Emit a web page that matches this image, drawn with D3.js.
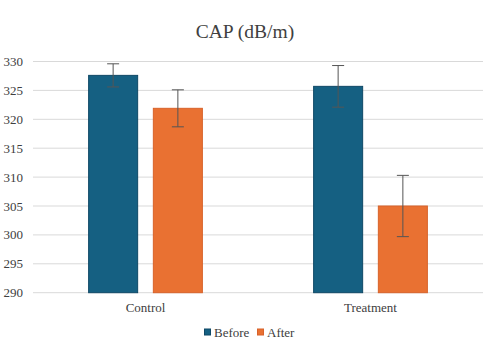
<!DOCTYPE html>
<html lang="en">
<head>
  <meta charset="UTF-8">
  <title>CAP (dB/m)</title>
  <script src="https://d3js.org/d3.v7.min.js"></script>
  <style>
    body { margin: 0; background: #fff; }
    svg text { font-family: "Liberation Serif", "DejaVu Serif", serif; }
  </style>
</head>
<body>
  <script>
    // data
    const groups = ["Control", "Treatment"];
    const series = ["Before", "After"];
    const colors = ["#156082", "#e97132"];
    const borders = ["#0f4866", "#d8622a"];
    const beforeVals = [327.6, 325.7];
    const afterVals = [321.9, 305.0];
    const beforeErr = [2.0, 3.6];
    const afterErr = [3.2, 5.3];
    const yTicks = [290, 295, 300, 305, 310, 315, 320, 325, 330];

    const width = 490, height = 359;
    const margin = { top: 61.5, right: 7, bottom: 66.3, left: 33 };
    const serif = "Liberation Serif, serif";

    const svg = d3.select("body").append("svg")
        .attr("width", width)
        .attr("height", height);

    const x0 = d3.scaleBand()
        .domain(groups)
        .range([margin.left, width - margin.right])
        .paddingInner(0.49)
        .paddingOuter(0.245);

    const x1 = d3.scaleBand()
        .domain(series)
        .range([0, x0.bandwidth()])
        .paddingInner(0.227);

    const y = d3.scaleLinear()
        .domain([290, 330])
        .range([height - margin.bottom, margin.top]);

    // gridlines
    svg.append("g")
      .selectAll("line")
      .data(yTicks)
      .enter().append("line")
        .attr("x1", margin.left)
        .attr("x2", width - margin.right)
        .attr("y1", d => y(d))
        .attr("y2", d => y(d))
        .attr("stroke", "#d9d9d9")
        .attr("stroke-width", 1);

    // y tick labels
    svg.append("g")
      .selectAll("text")
      .data(yTicks)
      .enter().append("text")
        .attr("x", 23)
        .attr("y", d => y(d))
        .attr("dy", "0.35em")
        .attr("text-anchor", "end")
        .attr("font-family", serif)
        .attr("font-size", 13)
        .attr("fill", "#404040")
        .text(d => d);

    // bars
    const rows = groups.map((g, i) => ({
      group: g,
      items: [
        { key: "Before", value: beforeVals[i], err: beforeErr[i], idx: 0 },
        { key: "After", value: afterVals[i], err: afterErr[i], idx: 1 }
      ]
    }));

    const gGroups = svg.append("g")
      .selectAll("g")
      .data(rows)
      .enter().append("g")
        .attr("transform", d => `translate(${x0(d.group)},0)`);

    gGroups.selectAll("rect")
      .data(d => d.items)
      .enter().append("rect")
        .attr("x", d => x1(d.key) + 0.5)
        .attr("y", d => y(d.value))
        .attr("width", x1.bandwidth() - 1)
        .attr("height", d => y(290) - y(d.value))
        .attr("fill", d => colors[d.idx])
        .attr("stroke", d => borders[d.idx])
        .attr("stroke-width", 1);

    // error bars
    const eb = gGroups.selectAll("g.err")
      .data(d => d.items)
      .enter().append("g")
        .attr("class", "err")
        .attr("stroke", "#555")
        .attr("stroke-width", 1);

    const cx = d => x1(d.key) + x1.bandwidth() / 2;
    eb.append("line")
        .attr("x1", cx).attr("x2", cx)
        .attr("y1", d => y(d.value + d.err))
        .attr("y2", d => y(d.value - d.err));
    eb.append("line")
        .attr("x1", d => cx(d) - 6).attr("x2", d => cx(d) + 6)
        .attr("y1", d => y(d.value + d.err))
        .attr("y2", d => y(d.value + d.err));
    eb.append("line")
        .attr("x1", d => cx(d) - 6).attr("x2", d => cx(d) + 6)
        .attr("y1", d => y(d.value - d.err))
        .attr("y2", d => y(d.value - d.err));

    // category labels
    svg.append("g")
      .selectAll("text")
      .data(groups)
      .enter().append("text")
        .attr("x", d => x0(d) + x0.bandwidth() / 2)
        .attr("y", 312)
        .attr("text-anchor", "middle")
        .attr("font-family", serif)
        .attr("font-size", 13)
        .attr("fill", "#404040")
        .text(d => d);

    // title
    svg.append("text")
        .attr("x", 245)
        .attr("y", 38)
        .attr("text-anchor", "middle")
        .attr("font-family", serif)
        .attr("font-size", 19.5)
        .attr("fill", "#404040")
        .text("CAP (dB/m)");

    // legend
    const legendX = [204, 257];
    const legend = svg.append("g")
      .selectAll("g")
      .data(series)
      .enter().append("g")
        .attr("transform", (d, i) => `translate(${legendX[i]},332)`);
    legend.append("rect")
        .attr("x", 0.5).attr("y", -3)
        .attr("width", 6).attr("height", 6)
        .attr("fill", (d, i) => colors[i])
        .attr("stroke", (d, i) => borders[i]);
    legend.append("text")
        .attr("x", 10)
        .attr("dy", "0.35em")
        .attr("font-family", serif)
        .attr("font-size", 13)
        .attr("fill", "#404040")
        .text(d => d);
  </script>
</body>
</html>
